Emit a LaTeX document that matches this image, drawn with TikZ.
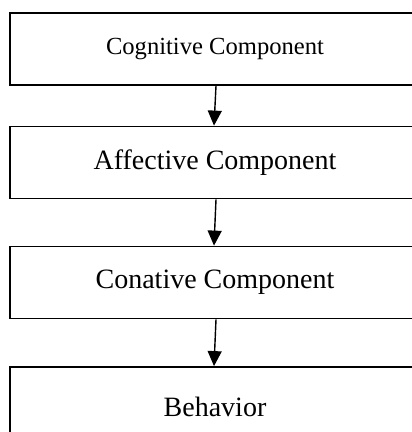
\documentclass[tikz,border=0pt]{standalone}
\usepackage{fontspec}
\setmainfont{Liberation Serif}
\usetikzlibrary{arrows.meta}
\begin{document}
\begin{tikzpicture}[x=1pt,y=-1pt,
  boxnode/.style={draw, line width=1.8pt, minimum width=410pt, minimum height=72pt, inner sep=0pt, font=\fontsize{28}{32}\selectfont},
  flow/.style={line width=1.4pt, -{Triangle[width=14pt,length=15pt]}}]
\useasboundingbox (0,0) rectangle (412,432);
\clip (0,0) rectangle (412,432);
\node[boxnode, font=\fontsize{24.6}{28}\selectfont] (b1) at (215,49) {Cognitive Component};
\node[boxnode] (b2) at (215,162.5) {Affective Component};
\node[boxnode] (b3) at (215,282.5) {Conative Component};
\node[boxnode, minimum height=80pt] (b4) at (215,407) {Behavior};
\draw[flow] ([xshift=1pt]b1.south) -- ([xshift=-1pt]b2.north);
\draw[flow] ([xshift=1pt]b2.south) -- ([xshift=-1pt]b3.north);
\draw[flow] ([xshift=1pt]b3.south) -- ([xshift=-1pt]b4.north);
\end{tikzpicture}
\end{document}
